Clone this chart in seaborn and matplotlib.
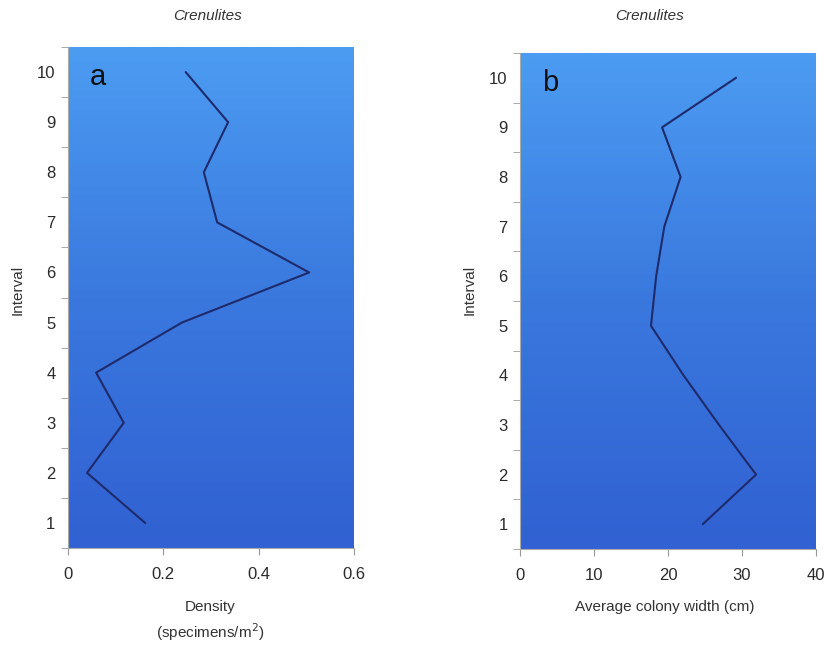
import numpy as np
import matplotlib
matplotlib.use("Agg")
import matplotlib.pyplot as plt
from matplotlib.colors import LinearSegmentedColormap
import pandas as pd
import seaborn as sns

# values
interval = [1, 2, 3, 4, 5, 6, 7, 8, 9, 10]
density = [0.162, 0.040, 0.117, 0.059, 0.239, 0.506, 0.313, 0.285, 0.336, 0.247]
width_cm = [24.7, 31.9, 26.9, 22.1, 17.7, 18.4, 19.5, 21.7, 19.2, 29.2]
density_ticks = [0, 0.2, 0.4, 0.6]
width_ticks = [0, 10, 20, 30, 40]

sns.set_style("white")
plt.rcParams['font.family'] = ['Liberation Sans Narrow', 'Liberation Sans', 'DejaVu Sans']

df = pd.DataFrame({"Interval": interval, "Density": density, "Width": width_cm})

fig = plt.figure(figsize=(8.27, 6.46), dpi=100)
ax_a = fig.add_axes([0.0822, 0.1517, 0.3458, 0.7755])
ax_b = fig.add_axes([0.6288, 0.1502, 0.3579, 0.7678])

bg = LinearSegmentedColormap.from_list("bg", ["#3161d2", "#3a78de", "#4c9cf2"])
grad = np.linspace(0, 1, 256).reshape(-1, 1)

line_col = "#1f2a6b"
tick_col = "#2b2b2b"

def style(ax, col, xmax, xticks, letter):
    ax.imshow(grad, cmap=bg, origin="lower", aspect="auto",
              extent=[0, xmax, 0.5, 10.5], zorder=0)
    sns.lineplot(data=df, x=col, y="Interval", sort=False, estimator=None,
                 color=line_col, linewidth=1.5, ax=ax, zorder=3)
    ax.set_xlim(0, xmax)
    ax.set_ylim(0.5, 10.5)
    ax.set_xticks(xticks)
    ax.set_xticklabels([f"{t:g}" for t in xticks], fontsize=12, color=tick_col)
    ax.set_yticks(interval)
    ax.set_yticklabels([str(i) for i in interval], fontsize=12, color=tick_col)
    ax.tick_params(axis="y", length=0, pad=9)
    ax.set_yticks(np.arange(0.5, 11, 1), minor=True)
    ax.tick_params(axis="y", which="minor", length=5, color="#999999", direction="out", left=True)
    ax.tick_params(axis="x", length=5, color="#999999", direction="out", pad=9, bottom=True)
    for s in ax.spines.values():
        s.set_visible(False)
    ax.spines["bottom"].set_visible(True)
    ax.spines["bottom"].set_color("#aaaaaa")
    ax.spines["left"].set_visible(True)
    ax.spines["left"].set_color("#aaaaaa")
    ax.set_xlabel("")
    ax.set_ylabel("")
    ax.text(0.075, 0.94, letter, transform=ax.transAxes, fontsize=21,
            color="#111111", va="center", ha="left",
            family=['Liberation Sans', 'DejaVu Sans'])

style(ax_a, "Density", 0.6, density_ticks, "a")
style(ax_b, "Width", 40, width_ticks, "b")

W, H = 827, 646
def ftext(x, y, s, **kw):
    fig.text(x / W, 1 - y / H, s, ha="center", va="center", color="#333333", **kw)

ftext(208, 16, "Crenulites", fontsize=11, style="italic")
ftext(650, 16, "Crenulites", fontsize=11, style="italic")
ftext(18, 290, "Interval", fontsize=11, rotation=90)
ftext(470, 290, "Interval", fontsize=11, rotation=90)
ftext(210, 607, "Density", fontsize=11)
ftext(210, 632, "(specimens/m$^2$)", fontsize=11)
ftext(665, 607, "Average colony width (cm)", fontsize=11)

fig.savefig("out.png", dpi=100)
